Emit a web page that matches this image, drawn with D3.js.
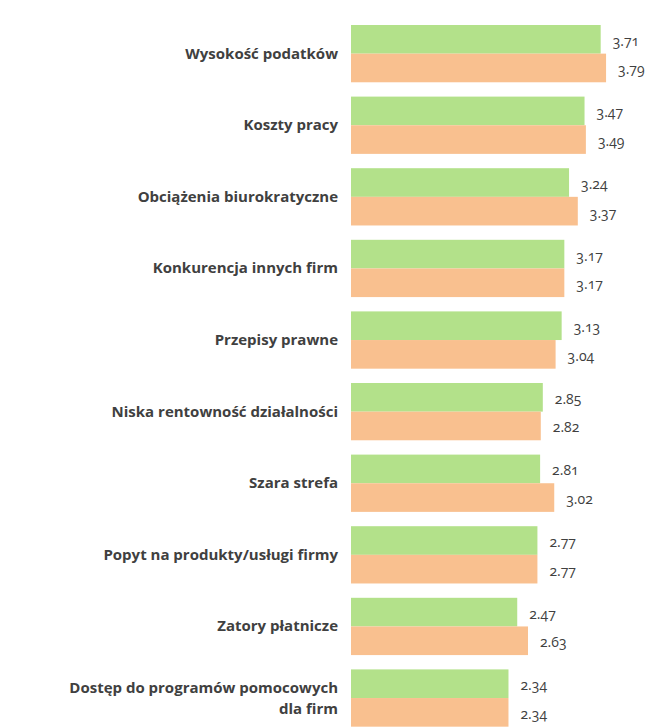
<!DOCTYPE html>
<html>
<head>
<meta charset="utf-8">
<script src="https://cdn.jsdelivr.net/npm/d3@7"></script>
<style>
body { margin: 0; background: #fff; }
.container { width: 652px; height: 728px; }
text { font-family: "Open Sans", Lato, sans-serif; fill: #404040; }
.val { font-feature-settings: "onum"; font-variant-numeric: oldstyle-nums; }
</style>
</head>
<body>
<div class="container"></div>
<script>
// categories, two lines where the label wraps
var categories = [
	["Wysokość podatków"],
	["Koszty pracy"],
	["Obciążenia biurokratyczne"],
	["Konkurencja innych firm"],
	["Przepisy prawne"],
	["Niska rentowność działalności"],
	["Szara strefa"],
	["Popyt na produkty/usługi firmy"],
	["Zatory płatnicze"],
	["Dostęp do programów pomocowych", "dla firm"]
];
var greenValues = [3.71, 3.47, 3.24, 3.17, 3.13, 2.85, 2.81, 2.77, 2.47, 2.34];
var orangeValues = [3.79, 3.49, 3.37, 3.17, 3.04, 2.82, 3.02, 2.77, 2.63, 2.34];

var W = 652, H = 728;
var svg = d3.select(".container").append("svg")
	.attr("width", W)
	.attr("height", H);

var x = d3.scaleLinear().domain([0, 4]).range([351, 351 + 4 * 67.3]);
var pad = 0.2;
var y = d3.scaleBand().domain(d3.range(categories.length))
	.range([25, 25 + 71.6 * (categories.length - pad)])
	.paddingInner(pad).paddingOuter(0);
var bh = y.bandwidth() / 2;

var g = svg.selectAll("g.grp").data(categories).enter().append("g")
	.attr("class", "grp")
	.attr("transform", function(d, i) { return "translate(0," + y(i) + ")"; });

g.append("rect")
	.attr("x", x(0))
	.attr("y", 0)
	.attr("width", function(d, i) { return x(greenValues[i]) - x(0); })
	.attr("height", bh)
	.style("fill", "#b3e18a");

g.append("rect")
	.attr("x", x(0))
	.attr("y", bh)
	.attr("width", function(d, i) { return x(orangeValues[i]) - x(0); })
	.attr("height", bh)
	.style("fill", "#f9c08f");

g.append("text")
	.attr("class", "val")
	.attr("x", function(d, i) { return x(greenValues[i]) + 12; })
	.attr("y", bh / 2 + 6.5)
	.style("font-size", "14px")
	.text(function(d, i) { return greenValues[i].toFixed(2); });

g.append("text")
	.attr("class", "val")
	.attr("x", function(d, i) { return x(orangeValues[i]) + 12; })
	.attr("y", bh * 1.5 + 6.5)
	.style("font-size", "14px")
	.text(function(d, i) { return orangeValues[i].toFixed(2); });

g.append("text")
	.attr("text-anchor", "end")
	.attr("x", 338)
	.attr("y", function(d) { return d.length > 1 ? bh - 5 : bh + 5; })
	.style("font-size", "15px")
	.style("font-weight", "bold")
	.selectAll("tspan").data(function(d) { return d; }).enter().append("tspan")
	.attr("x", 338)
	.attr("dy", function(d, i) { return i ? 21 : 0; })
	.text(function(d) { return d; });
</script>
</body>
</html>
